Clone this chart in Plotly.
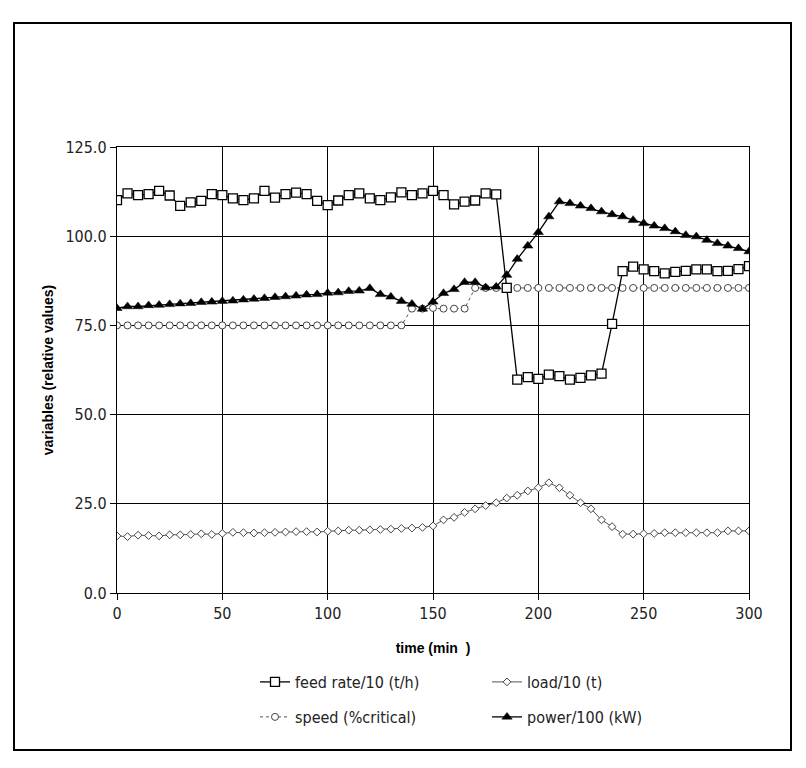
import plotly.graph_objects as go

time_min = list(range(0, 305, 5))

feed_rate = [110.1, 112.0, 111.5, 111.8, 112.7, 111.4, 108.5, 109.5, 109.9, 111.8,
             111.5, 110.6, 110.1, 110.6, 112.7, 110.8, 111.8, 112.2, 111.8, 109.9,
             108.7, 110.0, 111.5, 112.0, 110.6, 110.1, 110.9, 112.3, 111.5, 112.0,
             112.7, 111.5, 108.9, 109.7, 110.0, 112.0, 111.7, 85.5, 59.8, 60.5,
             60.0, 61.2, 60.8, 59.8, 60.3, 61.0, 61.5, 75.4, 90.2, 91.5,
             90.7, 90.2, 89.6, 90.0, 90.3, 90.7, 90.7, 90.2, 90.3, 90.8,
             91.6]

load = [16.0, 15.8, 16.2, 16.1, 16.0, 16.3, 16.3, 16.4, 16.6, 16.4,
        16.7, 17.0, 16.9, 16.8, 16.9, 17.0, 17.1, 17.2, 17.2, 17.1,
        17.3, 17.4, 17.6, 17.6, 17.7, 17.8, 17.9, 18.1, 18.2, 18.4,
        18.8, 20.5, 21.2, 22.6, 23.6, 24.5, 25.3, 26.6, 27.4, 28.6,
        29.5, 30.9, 29.5, 27.4, 25.3, 23.6, 20.5, 18.6, 16.5, 16.5,
        16.6, 16.7, 16.9, 16.9, 16.9, 16.9, 16.9, 16.9, 17.4, 17.4,
        17.4]

speed = [75.0] * 28 + [79.7, 79.7, 79.9, 79.7, 79.7, 79.7] + [85.5] * 27

power = [79.8, 80.3, 80.3, 80.6, 80.7, 80.9, 81.1, 81.2, 81.5, 81.6,
         81.8, 81.9, 82.2, 82.4, 82.6, 82.9, 83.1, 83.3, 83.6, 83.7,
         84.1, 84.2, 84.6, 84.7, 85.4, 83.7, 83.0, 81.8, 81.0, 79.6,
         81.6, 84.0, 85.1, 87.1, 87.1, 85.6, 85.8, 89.1, 93.6, 97.3,
         101.1, 105.5, 109.7, 109.2, 108.5, 107.8, 106.9, 106.1, 105.5, 104.5,
         103.6, 102.9, 102.2, 101.3, 100.3, 99.9, 98.9, 98.0, 97.3, 96.6,
         95.7]

x_ticks = [0, 50, 100, 150, 200, 250, 300]
y_ticks = [0, 25, 50, 75, 100, 125]

FONT = "DejaVu Sans Condensed, Liberation Sans Narrow, Arial Narrow, Liberation Sans, sans-serif"
BOLD = "Liberation Sans, Arial, sans-serif"

fig = go.Figure()

fig.add_trace(go.Scatter(
    x=time_min, y=load, name="load/10 (t)", mode="lines+markers",
    line=dict(color="#555555", width=1),
    marker=dict(symbol="diamond", size=6, color="white",
                line=dict(color="#444444", width=1)),
    legend="legend"))
fig.add_trace(go.Scatter(
    x=time_min, y=speed, name="speed (%critical)", mode="lines+markers",
    line=dict(color="#555555", width=1, dash="dot"),
    marker=dict(symbol="circle", size=7, color="white",
                line=dict(color="#444444", width=1)),
    legend="legend2"))
fig.add_trace(go.Scatter(
    x=time_min, y=feed_rate, name="feed rate/10 (t/h)", mode="lines+markers",
    line=dict(color="black", width=1.3),
    marker=dict(symbol="square", size=9, color="white",
                line=dict(color="black", width=1.3)),
    legend="legend"))
fig.add_trace(go.Scatter(
    x=time_min, y=power, name="power/100 (kW)", mode="lines+markers",
    line=dict(color="black", width=1.3),
    marker=dict(symbol="triangle-up", size=9, color="black",
                line=dict(color="black", width=0.5)),
    legend="legend2"))

L, R, T, B = 117, 806 - 749, 147, 768 - 593
pw, ph = 806 - L - R, 768 - T - B

def px_x(px):
    return (px - L) / pw

def px_y(py):
    return (593 - py) / ph

fig.update_layout(
    width=806, height=768,
    margin=dict(l=L, r=R, t=T, b=B, autoexpand=False),
    paper_bgcolor="white", plot_bgcolor="white",
    font=dict(family=FONT, size=15, color="#222222"),
    showlegend=True,
    legend=dict(orientation="h", x=px_x(255), y=px_y(682), xanchor="left",
                yanchor="middle", entrywidth=187, entrywidthmode="pixels",
                traceorder="reversed", font=dict(family=FONT, size=16),
                bgcolor="rgba(0,0,0,0)"),
    legend2=dict(orientation="h", x=px_x(255), y=px_y(717), xanchor="left",
                 yanchor="middle", entrywidth=187, entrywidthmode="pixels",
                 traceorder="normal", font=dict(family=FONT, size=16),
                 bgcolor="rgba(0,0,0,0)"),
    xaxis=dict(range=[0, 300], tickvals=x_ticks, ticktext=[str(v) for v in x_ticks],
               showgrid=True, gridcolor="black", gridwidth=1.4,
               showline=True, linecolor="black", linewidth=1.4, mirror=True,
               ticks="outside", ticklen=6, tickcolor="black", tickwidth=1.2,
               zeroline=False, tickfont=dict(family=FONT, size=16),
               title=dict(text="<b>time (min\u00a0\u00a0)</b>", standoff=20,
                          font=dict(family=BOLD, size=14, color="black"))),
    yaxis=dict(range=[0, 125], tickvals=y_ticks, ticktext=[f"{v:.1f}" for v in y_ticks],
               showgrid=True, gridcolor="black", gridwidth=1.4,
               showline=True, linecolor="black", linewidth=1.4, mirror=True,
               ticks="outside", ticklen=6, tickcolor="black", tickwidth=1.2,
               zeroline=False, tickfont=dict(family=FONT, size=16),
               title=dict(text="<b>variables (relative values)</b>", standoff=8,
                          font=dict(family=BOLD, size=14, color="black"))),
    shapes=[dict(type="rect", xref="paper", yref="paper",
                 x0=px_x(14), x1=px_x(791), y0=px_y(750), y1=px_y(23),
                 line=dict(color="black", width=2), layer="below")],
)

fig.write_html("out.html")
